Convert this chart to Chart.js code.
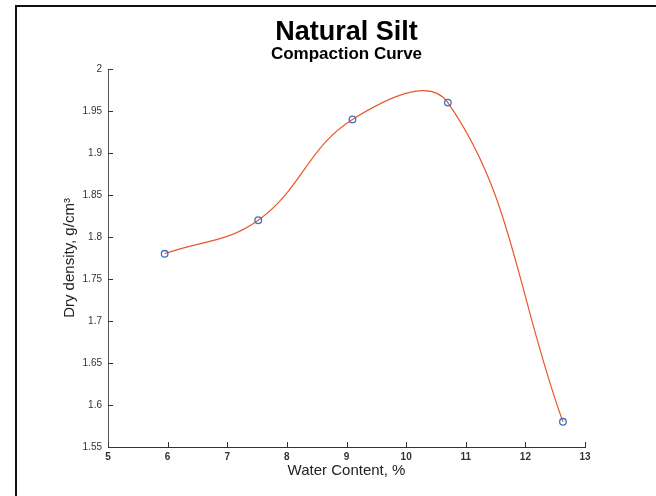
<!DOCTYPE html>
<html>
<head>
<meta charset="utf-8">
<script src="https://cdn.jsdelivr.net/npm/chart.js@4/dist/chart.umd.min.js"></script>
<style>
  html, body { margin: 0; padding: 0; background: #fff; }
  #wrap { position: relative; width: 656px; height: 496px; overflow: hidden; }
  #frame {
    position: absolute; left: 15px; top: 5px; width: 700px; height: 560px;
    border-left: 2px solid #111; border-top: 2px solid #111; pointer-events: none;
  }
</style>
</head>
<body>
<div id="wrap">
  <canvas id="kk-chart"></canvas>
  <div id="frame"></div>
</div>
<script>
/* ======================================================================
   Natural Silt – compaction curve
====================================================================== */

// Målepunkter (vanninnhold %, tørrdensitet g/cm3)
const waterContent = [5.95, 7.52, 9.1, 10.7, 12.63];
const dryDensity = [1.78, 1.82, 1.94, 1.96, 1.58];

// Akseticks
const xTicks = [5, 6, 7, 8, 9, 10, 11, 12, 13];
const yTicks = [1.55, 1.6, 1.65, 1.7, 1.75, 1.8, 1.85, 1.9, 1.95, 2];

const FONT = "Arial, 'Liberation Sans', Helvetica, sans-serif";

// Ticks som peker innover i plottet
const innerTicks = {
    id: "innerTicks",
    afterDraw(chart) {
        const { ctx, chartArea, scales } = chart;
        ctx.save();
        ctx.strokeStyle = "#333";
        ctx.lineWidth = 1;
        ctx.beginPath();
        xTicks.forEach(v => {
            const x = Math.round(scales.x.getPixelForValue(v)) + 0.5;
            ctx.moveTo(x, chartArea.bottom);
            ctx.lineTo(x, chartArea.bottom - 5);
        });
        yTicks.forEach(v => {
            const y = Math.round(scales.y.getPixelForValue(v)) + 0.5;
            ctx.moveTo(chartArea.left, y);
            ctx.lineTo(chartArea.left + 5, y);
        });
        ctx.stroke();
        ctx.restore();
    }
};

const points = waterContent.map((x, i) => ({ x, y: dryDensity[i] }));

new Chart(document.getElementById("kk-chart"), {
    type: "line",
    data: {
        datasets: [{
            data: points,
            borderColor: "#e8582c",
            borderWidth: 1.2,
            tension: 0.4,
            fill: false,
            pointRadius: 3.3,
            pointBorderWidth: 1.3,
            pointBorderColor: "#3a72c4",
            pointBackgroundColor: "rgba(0,0,0,0)"
        }]
    },
    options: {
        responsive: true,
        maintainAspectRatio: false,
        animation: false,
        layout: { padding: { left: 0, right: 71, top: 0, bottom: 0 } },
        plugins: {
            legend: { display: false },
            tooltip: { enabled: false },
            title: {
                display: true,
                text: "Natural Silt",
                color: "#000",
                fullSize: false,
                font: { family: FONT, size: 27, weight: "bold", lineHeight: 1 },
                padding: { top: 19, bottom: 0 }
            },
            subtitle: {
                display: true,
                text: "Compaction Curve",
                color: "#000",
                fullSize: false,
                font: { family: FONT, size: 17, weight: "bold", lineHeight: 1 },
                padding: { top: 0, bottom: 6 }
            }
        },
        scales: {
            x: {
                type: "linear",
                min: 5,
                max: 13,
                afterBuildTicks: s => { s.ticks = xTicks.map(v => ({ value: v })); },
                afterFit: s => { s.height = 49; },
                grid: { display: false, drawTicks: false },
                border: { display: true, color: "#333", width: 1 },
                ticks: {
                    padding: 4,
                    color: "#333",
                    font: { family: FONT, size: 10, weight: "bold" },
                    maxRotation: 0,
                    callback: v => String(v)
                },
                title: {
                    display: true,
                    text: "Water Content, %",
                    color: "#222",
                    font: { family: FONT, size: 15, lineHeight: 1.2 },
                    padding: { top: 0, bottom: 16 }
                }
            },
            y: {
                type: "linear",
                min: 1.55,
                max: 2,
                afterBuildTicks: s => { s.ticks = yTicks.map(v => ({ value: v })); },
                afterFit: s => { s.width = 108; },
                grid: { display: false, drawTicks: false },
                border: { display: true, color: "#555", width: 1 },
                ticks: {
                    padding: 6,
                    color: "#333",
                    font: { family: FONT, size: 10 },
                    callback: v => String(Number(v.toFixed(2)))
                },
                title: {
                    display: true,
                    text: "Dry density, g/cm³",
                    color: "#222",
                    font: { family: FONT, size: 15, lineHeight: 1.2 },
                    padding: { top: 61, bottom: 0 }
                }
            }
        }
    },
    plugins: [innerTicks]
});
</script>
</body>
</html>
